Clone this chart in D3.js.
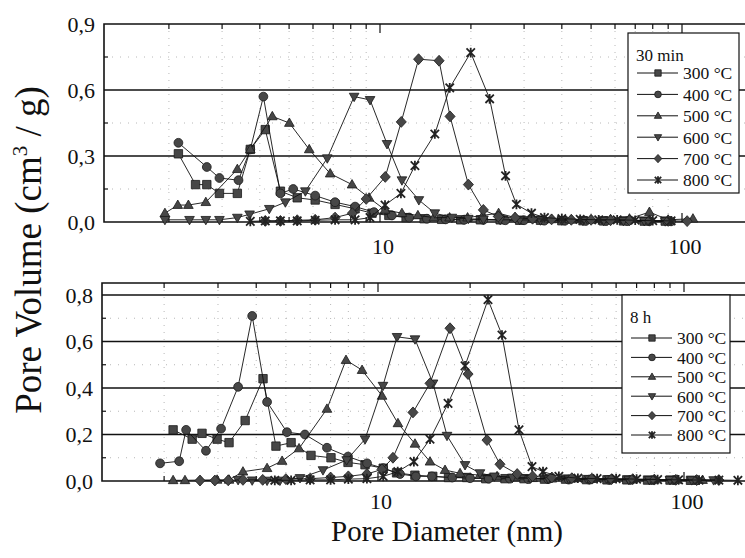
<!DOCTYPE html>
<html lang="en">
<head>
<meta charset="UTF-8">
<title>Pore size distribution</title>
<script src="https://cdn.jsdelivr.net/npm/d3@7"></script>
<style>
  body { margin: 0; background: #fff; }
  svg text { font-family: 'Liberation Serif', 'Times New Roman', 'DejaVu Serif', serif; }
</style>
</head>
<body>
<script>
// legend labels and the marker of each temperature
var temps = ['300 °C', '400 °C', '500 °C', '600 °C', '700 °C', '800 °C'];
var shapes = ['square', 'circle', 'up', 'down', 'diamond', 'star'];

// 30 min : [pore diameter (nm), pore volume (cm3/g)]
var min30_300 = [[2.15,0.31],[2.45,0.17],[2.67,0.17],[2.94,0.13],[3.37,0.13],[3.72,0.33],[4.17,0.42],[4.68,0.14],[5.32,0.11],[6.10,0.10],[7.10,0.08],[8.27,0.06],[9.41,0.04],[10.7,0.03],[12.2,0.02],[14.0,0.015],[16.0,0.012],[18.5,0.01],[21.5,0.01],[25.0,0.01],[29.0,0.008],[34.0,0.008],[40.0,0.006],[47.0,0.006],[55.0,0.005],[64.0,0.005],[75.0,0.004],[88.0,0.004]];
var min30_400 = [[2.15,0.36],[2.67,0.25],[2.94,0.20],[3.40,0.19],[3.72,0.33],[4.11,0.57],[4.68,0.13],[5.16,0.15],[6.10,0.12],[7.10,0.09],[8.27,0.07],[9.55,0.045],[10.95,0.03],[12.5,0.02],[14.3,0.015],[16.5,0.012],[19.0,0.01],[22.0,0.01],[26.0,0.008],[30.0,0.008],[35.0,0.006],[41.0,0.006],[48.0,0.005],[56.0,0.005],[66.0,0.004],[78.0,0.004],[92.0,0.003]];
var min30_500 = [[1.94,0.04],[2.14,0.077],[2.32,0.077],[2.65,0.09],[3.37,0.24],[3.72,0.33],[4.40,0.48],[5.01,0.45],[5.83,0.33],[6.84,0.22],[8.08,0.17],[9.20,0.11],[10.39,0.055],[11.82,0.04],[13.35,0.03],[15.07,0.02],[17.0,0.02],[19.5,0.02],[21.9,0.03],[24.7,0.04],[28.0,0.02],[32.0,0.015],[37.0,0.012],[43.0,0.01],[50.0,0.01],[58.0,0.012],[67.0,0.015],[78.0,0.045],[90.0,0.01],[108.7,0.015]];
var min30_600 = [[1.94,0.01],[2.34,0.01],[2.65,0.01],[2.94,0.01],[3.37,0.02],[3.70,0.035],[4.30,0.06],[4.86,0.09],[5.66,0.14],[6.69,0.29],[8.21,0.57],[9.27,0.555],[10.55,0.355],[11.82,0.19],[13.45,0.10],[15.19,0.04],[17.3,0.02],[19.6,0.015],[22.0,0.012],[25.0,0.01],[29.0,0.01],[34.0,0.008],[40.0,0.008],[47.0,0.006],[55.0,0.006],[64.0,0.005],[75.0,0.005],[88.0,0.004]];
var min30_700 = [[4.17,0.005],[4.68,0.005],[5.32,0.008],[6.10,0.01],[7.10,0.02],[8.10,0.04],[9.00,0.105],[10.41,0.205],[11.76,0.455],[13.42,0.74],[15.69,0.733],[17.06,0.48],[19.62,0.17],[21.99,0.055],[24.65,0.025],[28.0,0.02],[32.0,0.015],[37.0,0.012],[43.0,0.01],[50.0,0.01],[58.0,0.008],[67.0,0.008],[78.0,0.006],[90.0,0.005],[104.0,0.004]];
var min30_800 = [[3.72,0.003],[4.17,0.005],[4.68,0.005],[5.32,0.005],[6.10,0.008],[7.10,0.01],[8.27,0.01],[9.27,0.02],[10.39,0.077],[11.73,0.13],[13.05,0.256],[15.19,0.40],[17.02,0.61],[19.97,0.77],[23.07,0.56],[26.05,0.21],[28.3,0.08],[31.74,0.04],[35.04,0.02],[40.0,0.015],[46.0,0.012],[53.0,0.01],[61.0,0.01],[70.0,0.008],[80.0,0.006],[92.0,0.005]];

// 8 h
var h8_300 = [[2.14,0.22],[2.47,0.18],[2.66,0.205],[2.98,0.18],[3.26,0.165],[3.68,0.26],[4.21,0.44],[4.64,0.15],[5.20,0.165],[6.04,0.11],[7.02,0.10],[7.98,0.08],[9.07,0.07],[10.4,0.055],[11.5,0.035],[13.2,0.025],[15.1,0.02],[17.0,0.015],[19.5,0.015],[22.5,0.01],[26.0,0.01],[30.0,0.01],[35.0,0.008],[41.0,0.008],[48.0,0.006],[56.0,0.005],[65.0,0.005],[76.0,0.004],[90.0,0.004],[105.0,0.003]];
var h8_400 = [[1.94,0.076],[2.24,0.085],[2.36,0.22],[2.74,0.13],[3.07,0.225],[3.49,0.405],[3.88,0.71],[4.34,0.34],[5.04,0.21],[5.77,0.20],[6.81,0.143],[7.98,0.105],[9.21,0.076],[10.4,0.055],[11.8,0.03],[13.3,0.02],[15.0,0.02],[17.5,0.015],[20.0,0.012],[23.0,0.01],[27.0,0.01],[31.0,0.008],[36.0,0.008],[42.0,0.006],[49.0,0.006],[57.0,0.005],[67.0,0.005],[79.0,0.004],[93.0,0.004],[110.0,0.003]];
var h8_500 = [[2.14,0.003],[2.34,0.003],[2.98,0.005],[3.26,0.005],[3.62,0.04],[4.34,0.055],[4.86,0.086],[5.52,0.14],[6.81,0.31],[7.86,0.52],[8.87,0.477],[10.31,0.366],[11.62,0.248],[13.21,0.16],[14.79,0.083],[16.56,0.047],[18.54,0.033],[21.5,0.025],[24.5,0.02],[28.0,0.015],[32.0,0.012],[37.0,0.01],[43.0,0.01],[50.0,0.008],[58.0,0.008],[68.0,0.006],[80.0,0.005],[95.0,0.005],[115.0,0.004]];
var h8_600 = [[3.49,0.005],[3.88,0.003],[4.34,0.002],[4.78,0.002],[5.56,0.013],[6.61,0.047],[7.90,0.09],[9.07,0.18],[10.38,0.41],[11.54,0.62],[13.21,0.61],[15.13,0.42],[16.81,0.195],[19.25,0.069],[21.54,0.034],[24.0,0.02],[27.5,0.015],[31.5,0.012],[36.0,0.01],[42.0,0.01],[49.0,0.008],[57.0,0.008],[66.0,0.006],[77.0,0.005],[90.0,0.005],[106.0,0.004],[125.0,0.004]];
var h8_700 = [[2.62,0.002],[2.93,0.002],[3.24,0.003],[3.62,0.005],[4.20,0.005],[5.00,0.008],[6.00,0.01],[7.00,0.015],[8.00,0.02],[9.20,0.03],[10.3,0.05],[11.19,0.10],[13.01,0.295],[14.79,0.42],[17.19,0.657],[19.69,0.46],[22.71,0.176],[25.04,0.072],[28.5,0.03],[32.0,0.02],[37.0,0.015],[43.0,0.012],[50.0,0.01],[58.0,0.008],[68.0,0.008],[80.0,0.006],[94.0,0.005],[110.0,0.004],[130.0,0.004]];
var h8_800 = [[4.60,0.003],[5.20,0.003],[6.00,0.005],[7.00,0.005],[8.00,0.008],[9.20,0.01],[10.4,0.02],[11.6,0.04],[13.1,0.083],[14.79,0.18],[16.94,0.334],[19.25,0.495],[22.88,0.78],[25.42,0.628],[28.89,0.22],[31.86,0.062],[34.61,0.04],[39.0,0.02],[45.0,0.012],[52.0,0.01],[60.0,0.01],[70.0,0.008],[82.0,0.006],[96.0,0.005],[112.0,0.004],[130.0,0.004],[150.0,0.003]];

// axis ticks
var yTicks30 = [0, 0.3, 0.6, 0.9];
var yMinor30 = [0.15, 0.45, 0.75];
var yTicks8h = [0, 0.2, 0.4, 0.6, 0.8];
var yMinor8h = [0.1, 0.3, 0.5, 0.7];
var xTickLabels = [10, 100];
var xMinor = [2, 3, 4, 5, 6, 7, 8, 9, 20, 30, 40, 50, 60, 70, 80, 90, 200];

var width = 745, height = 558;
var svg = d3.select('body').append('svg')
  .attr('width', width)
  .attr('height', height);

var panels = [
  {title: '30 min', series: [min30_300, min30_400, min30_500, min30_600, min30_700, min30_800],
   left: 104, right: 770, top: 24, bottom: 222, x10: 380, x100: 682, ymax: 0.9,
   yTicks: yTicks30, yMinor: yMinor30, labelY: 246,
   legend: {x: 628, y: 33, w: 111, h: 160, titleY: 55, firstY: 73, step: 21.4}},
  {title: '8 h', series: [h8_300, h8_400, h8_500, h8_600, h8_700, h8_800],
   left: 102, right: 770, top: 283, bottom: 481, x10: 378, x100: 684, ymax: 0.8516,
   yTicks: yTicks8h, yMinor: yMinor8h, labelY: 501,
   legend: {x: 622, y: 295, w: 108, h: 158, titleY: 317, firstY: 338, step: 19.4}}
];

// marker path for a shape, r = half size
function markerPath(shape, r) {
  if (shape == 'square') return 'M' + -r + ',' + -r + 'h' + 2 * r + 'v' + 2 * r + 'h' + -2 * r + 'Z';
  if (shape == 'circle') return d3.symbol(d3.symbolCircle, Math.PI * r * r * 1.1)();
  if (shape == 'up') return 'M0,' + (-1.2 * r) + 'L' + 1.15 * r + ',' + 0.8 * r + 'L' + -1.15 * r + ',' + 0.8 * r + 'Z';
  if (shape == 'down') return 'M0,' + 1.2 * r + 'L' + 1.15 * r + ',' + (-0.8 * r) + 'L' + -1.15 * r + ',' + (-0.8 * r) + 'Z';
  if (shape == 'diamond') return 'M0,' + (-1.3 * r) + 'L' + 1.2 * r + ',0L0,' + 1.3 * r + 'L' + -1.2 * r + ',0Z';
  // star: x crossed by a vertical bar
  return 'M' + -r + ',' + -r + 'L' + r + ',' + r + 'M' + -r + ',' + r + 'L' + r + ',' + -r +
         'M0,' + -r * 1.15 + 'L0,' + r * 1.15;
}

function drawMarker(g, shape, x, y, r) {
  var p = g.append('path')
    .attr('transform', 'translate(' + x + ',' + y + ')')
    .attr('d', markerPath(shape, r));
  if (shape == 'star') {
    p.attr('fill', 'none').attr('stroke', '#222').attr('stroke-width', 1.8);
  } else {
    p.attr('fill', '#474747').attr('stroke', '#1a1a1a').attr('stroke-width', 0.8);
  }
}

var fmt = function(v) { return d3.format('.1f')(v).replace('.', ','); };

panels.forEach(function(pn) {
  var x = d3.scaleLog().domain([10, 100]).range([pn.x10, pn.x100]);
  var y = d3.scaleLinear().domain([0, pn.ymax]).range([pn.bottom, pn.top]);
  var g = svg.append('g');

  // faint dotted grid
  g.selectAll('.vdot').data(xMinor).enter().append('line')
    .attr('x1', function(d) { return x(d); }).attr('x2', function(d) { return x(d); })
    .attr('y1', pn.top).attr('y2', pn.bottom)
    .attr('stroke', '#b8b8b8').attr('stroke-width', 1).attr('stroke-dasharray', '1,6');
  g.selectAll('.hdot').data(pn.yMinor).enter().append('line')
    .attr('x1', pn.left).attr('x2', pn.right)
    .attr('y1', function(d) { return y(d); }).attr('y2', function(d) { return y(d); })
    .attr('stroke', '#b8b8b8').attr('stroke-width', 1).attr('stroke-dasharray', '1,7');

  // solid horizontal grid lines
  g.selectAll('.hgrid').data(pn.yTicks.filter(function(d) { return d > 0 && y(d) > pn.top + 2; }))
    .enter().append('line')
    .attr('x1', pn.left).attr('x2', pn.right)
    .attr('y1', function(d) { return y(d); }).attr('y2', function(d) { return y(d); })
    .attr('stroke', '#111').attr('stroke-width', 1.3);

  // frame: top, left, bottom
  g.append('path')
    .attr('d', 'M' + pn.right + ',' + pn.top + 'H' + pn.left + 'V' + pn.bottom + 'H' + pn.right)
    .attr('fill', 'none').attr('stroke', '#111').attr('stroke-width', 1.6);

  // x ticks (inward) on top and bottom
  var xt = xMinor.map(function(d) { return {v: d, len: 5}; })
    .concat(xTickLabels.map(function(d) { return {v: d, len: 9}; }));
  g.selectAll('.xtt').data(xt).enter().append('line')
    .attr('x1', function(d) { return x(d.v); }).attr('x2', function(d) { return x(d.v); })
    .attr('y1', pn.top).attr('y2', function(d) { return pn.top + d.len; })
    .attr('stroke', '#111').attr('stroke-width', 1.2);
  g.selectAll('.xtb').data(xt).enter().append('line')
    .attr('x1', function(d) { return x(d.v); }).attr('x2', function(d) { return x(d.v); })
    .attr('y1', pn.bottom).attr('y2', function(d) { return pn.bottom - d.len; })
    .attr('stroke', '#111').attr('stroke-width', 1.2);

  // y minor ticks (inward)
  g.selectAll('.ytm').data(pn.yMinor).enter().append('line')
    .attr('x1', pn.left).attr('x2', pn.left + 4)
    .attr('y1', function(d) { return y(d); }).attr('y2', function(d) { return y(d); })
    .attr('stroke', '#111').attr('stroke-width', 1.2);

  // y tick labels
  g.selectAll('.ylab').data(pn.yTicks).enter().append('text')
    .attr('x', pn.left - 9)
    .attr('y', function(d) { return y(d); })
    .attr('dy', '0.36em')
    .attr('text-anchor', 'end')
    .attr('font-size', 22)
    .attr('fill', '#111')
    .text(fmt);

  // x tick labels
  g.selectAll('.xlab').data(xTickLabels).enter().append('text')
    .attr('x', function(d) { return x(d) + 3; })
    .attr('y', pn.labelY)
    .attr('dy', '0.36em')
    .attr('text-anchor', 'middle')
    .attr('font-size', 22)
    .attr('fill', '#111')
    .text(function(d) { return d; });

  // series: line then markers
  var line = d3.line()
    .x(function(d) { return x(d[0]); })
    .y(function(d) { return y(d[1]); });
  pn.series.forEach(function(s, i) {
    g.append('path')
      .attr('d', line(s))
      .attr('fill', 'none')
      .attr('stroke', '#111')
      .attr('stroke-width', 0.9);
    s.forEach(function(d) {
      drawMarker(g, shapes[i], x(d[0]), y(d[1]), 4.2);
    });
  });

  // legend
  var lg = pn.legend;
  var leg = g.append('g');
  leg.append('rect')
    .attr('x', lg.x).attr('y', lg.y).attr('width', lg.w).attr('height', lg.h)
    .attr('fill', '#fff').attr('stroke', '#111').attr('stroke-width', 1.2);
  leg.append('text')
    .attr('x', lg.x + 8).attr('y', lg.titleY).attr('dy', '0.36em')
    .attr('font-size', 17)
    .attr('fill', '#111')
    .text(pn.title);
  temps.forEach(function(t, i) {
    var ly = lg.firstY + i * lg.step;
    leg.append('line')
      .attr('x1', lg.x + 9).attr('x2', lg.x + 50)
      .attr('y1', ly).attr('y2', ly)
      .attr('stroke', '#111').attr('stroke-width', 1);
    drawMarker(leg, shapes[i], lg.x + 30, ly, 3.2);
    leg.append('text')
      .attr('x', lg.x + 55).attr('y', ly).attr('dy', '0.36em')
      .attr('font-size', 17.5)
      .attr('fill', '#111')
      .text(t);
  });
});

// axis titles
svg.append('text')
  .attr('x', 447).attr('y', 541)
  .attr('text-anchor', 'middle')
  .attr('font-size', 29)
  .attr('fill', '#111')
  .text('Pore Diameter (nm)');

var yt = svg.append('text')
  .attr('transform', 'translate(41,250) rotate(-90)')
  .attr('text-anchor', 'middle')
  .attr('font-size', 37)
  .attr('fill', '#111');
yt.append('tspan').text('Pore Volume (cm');
yt.append('tspan').attr('dy', -14).attr('font-size', 21).text('3');
yt.append('tspan').attr('dy', 14).text(' / g)');
</script>
</body>
</html>
